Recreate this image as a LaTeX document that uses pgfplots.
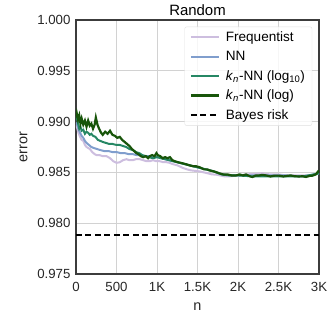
\documentclass[border=0pt]{standalone}
\usepackage{pgfplots}
\pgfplotsset{compat=1.18}
\usepackage{fontspec}
\setmainfont{Liberation Sans}
\definecolor{cfreq}{RGB}{205,190,223}
\definecolor{cnn}{RGB}{128,158,205}
\definecolor{cteal}{RGB}{38,135,100}
\definecolor{cdark}{RGB}{24,85,10}
\definecolor{cgrid}{RGB}{210,210,210}
\definecolor{cframe}{RGB}{60,60,60}
\newcommand{\kn}{\textit{k}\textsubscript{\textit{n}}}
\begin{document}
\begin{tikzpicture}
\begin{axis}[
  name=ax,
  scale only axis,
  width=243bp, height=254bp,
  xmin=0, xmax=3000, ymin=0.975, ymax=1.0,
  xtick={0,500,1000,1500,2000,2500,3000},
  xticklabels={0,500,1K,1.5K,2K,2.5K,3K},
  ytick={0.975,0.98,0.985,0.99,0.995,1.0},
  scaled y ticks=false, scaled x ticks=false,
  /pgf/number format/assume math mode=true,
  yticklabel style={/pgf/number format/fixed, /pgf/number format/fixed zerofill, /pgf/number format/precision=3, xshift=-2bp},
  tick label style={font=\fontsize{13.3}{16}\selectfont, text=black!85},
  tick style={draw=none},
  xticklabel style={yshift=-5bp},
  grid=major,
  major grid style={draw=cgrid, line width=0.9pt},
  axis line style={draw=cframe, line width=1.1pt},
  xlabel={n}, ylabel={error},
  label style={font=\fontsize{14.5}{17}\selectfont, text=black!85},
  xlabel style={yshift=-4bp},
  ylabel style={yshift=3bp},
  title={Random},
  title style={font=\fontsize{15}{17}\selectfont, yshift=-5bp},
  legend style={at={(rel axis cs:0.972,0.974)}, anchor=north east, font=\fontsize{13.6}{15}\selectfont,
    draw=black!12, rounded corners=2pt, fill=white, fill opacity=0.8, text opacity=1,
    row sep=4.2bp, column sep=4bp, inner xsep=5bp, inner ysep=3bp},
  legend cell align=left,
  legend image code/.code={\draw[#1] (0bp,0bp) -- (28bp,0bp);},
]
\addplot[cfreq, line width=2pt] coordinates {
(0,0.9897) (10,0.9895) (30,0.9889) (50,0.9885) (70,0.9882) (90,0.9881) (110,0.9877) (130,0.9875) (150,0.9874) (172,0.9873)
(200,0.9870) (230,0.9868) (254,0.9867) (290,0.9867) (330,0.9866) (377,0.9866) (420,0.9864) (460,0.9861) (500,0.98594) (540,0.9860)
(580,0.9862) (623,0.9863) (660,0.9862) (700,0.9862) (740,0.9863) (787,0.9863) (830,0.9862) (870,0.9861) (910,0.9861) (950,0.9862)
(992,0.9861) (1033,0.9861) (1080,0.9860) (1120,0.9860) (1156,0.98594) (1200,0.9858) (1250,0.9857) (1316,0.98545) (1370,0.9853) (1420,0.9852)
(1470,0.98515) (1525,0.9851) (1580,0.9850) (1630,0.9849) (1680,0.9848) (1730,0.98478) (1780,0.9847) (1840,0.9846) (1894,0.98461)
(2000,0.9847) (2100,0.9848) (2200,0.98485) (2300,0.9849) (2400,0.9848) (2500,0.9848) (2600,0.9847) (2700,0.9847) (2800,0.9847) (2900,0.9847) (3000,0.9849)
};
\addlegendentry{Frequentist}
\addplot[cnn, line width=2pt] coordinates {
(0,0.9899) (10,0.9898) (30,0.9893) (50,0.9889) (70,0.9886) (90,0.9884) (110,0.9881) (130,0.9879) (160,0.9877) (190,0.9875)
(220,0.9874) (260,0.9873) (300,0.9872) (350,0.9871) (400,0.9871) (450,0.9870) (500,0.9870) (550,0.9869) (600,0.9869) (650,0.9868)
(700,0.9868) (750,0.9867) (800,0.9867) (850,0.9866) (900,0.9866) (950,0.9865) (1000,0.9865) (1100,0.9863) (1200,0.9861) (1300,0.9859)
(1400,0.9857) (1500,0.9855) (1600,0.9853) (1700,0.9851) (1800,0.9848) (1900,0.9847) (2000,0.9847) (2200,0.9847) (2400,0.9847) (2600,0.9847) (2800,0.9846) (3000,0.9849)
};
\addlegendentry{NN}
\addplot[cteal, line width=2pt] coordinates {
(0,0.9906) (10,0.9904) (25,0.9898) (40,0.9893) (55,0.9895) (70,0.9891) (90,0.9892) (110,0.9888) (130,0.9890) (150,0.9889)
(170,0.9887) (190,0.9888) (210,0.9886) (240,0.9885) (270,0.9882) (300,0.9881) (330,0.9880) (370,0.9879) (410,0.9878) (450,0.9878)
(500,0.9877) (540,0.9877) (580,0.9876) (620,0.9875) (660,0.9873) (700,0.9872) (740,0.9870) (780,0.9869) (820,0.9867) (860,0.9866)
(900,0.9865) (950,0.9864) (1000,0.9865) (1050,0.9864) (1100,0.9863) (1200,0.9861) (1300,0.9859) (1400,0.9857) (1500,0.9855) (1600,0.9853)
(1700,0.9851) (1800,0.9848) (1900,0.9847) (2000,0.9847) (2200,0.9846) (2400,0.9846) (2600,0.9846) (2800,0.9846) (3000,0.9849)
};
\addlegendentry{\kn-NN (log\textsubscript{10})}
\addplot[cdark, line width=2.2pt] coordinates {
(0,0.9904) (10,0.9908) (25,0.9902) (40,0.9906) (55,0.9898) (70,0.9903) (90,0.9897) (110,0.9901) (130,0.9895) (150,0.9901)
(170,0.9896) (190,0.9898) (210,0.9893) (230,0.9897) (245,0.9904) (265,0.9897) (285,0.9893) (310,0.9889) (330,0.9887) (360,0.9890)
(390,0.9888) (420,0.9891) (450,0.9887) (480,0.9886) (510,0.9884) (540,0.9885) (570,0.9882) (600,0.9880) (630,0.9878) (660,0.9876)
(690,0.9873) (720,0.9871) (745,0.9869) (770,0.9868) (800,0.9866) (830,0.9865) (860,0.9866) (890,0.9864) (910,0.9866) (940,0.9867)
(970,0.9866) (993,0.9869) (1010,0.9867) (1040,0.9866) (1070,0.9864) (1100,0.9865) (1130,0.9864) (1160,0.9865) (1190,0.9862) (1220,0.9861)
(1260,0.9860) (1315,0.9859) (1360,0.9858) (1400,0.9857) (1450,0.9856) (1485,0.9856) (1530,0.9855) (1580,0.9853) (1620,0.9853) (1648,0.9852)
(1700,0.9851) (1740,0.9850) (1771,0.9849) (1820,0.9848) (1870,0.9848) (1920,0.9847) (1977,0.9847) (2020,0.9848) (2060,0.9847) (2100,0.9848)
(2150,0.9846) (2180,0.98455) (2220,0.9847) (2260,0.9847) (2300,0.98475) (2350,0.9847) (2400,0.9846) (2450,0.98468) (2510,0.98468) (2560,0.9846)
(2600,0.98465) (2650,0.9847) (2700,0.98462) (2750,0.9846) (2800,0.98462) (2840,0.98455) (2880,0.98465) (2920,0.98468) (2960,0.9848) (2990,0.9851) (3000,0.9850)
};
\addlegendentry{\kn-NN (log)}
\addplot[black, line width=2pt, dash pattern=on 6bp off 3.5bp] coordinates {(0,0.97882) (3000,0.97882)};
\addlegendentry{Bayes risk}
\end{axis}
\pgfresetboundingbox
\path ([xshift=-76bp,yshift=-39bp]ax.south west) rectangle ([xshift=253bp,yshift=274bp]ax.south west);
\end{tikzpicture}
\end{document}
